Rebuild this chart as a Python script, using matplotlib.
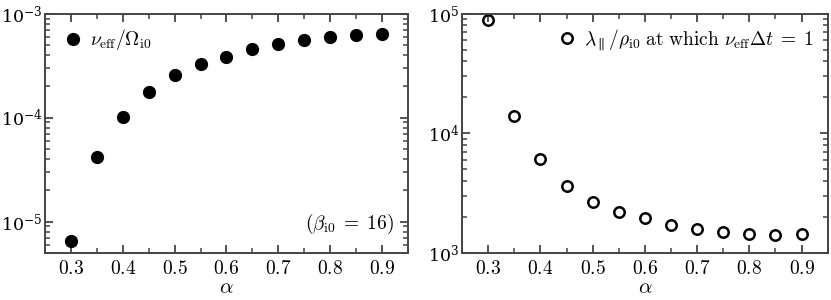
import matplotlib
matplotlib.use('Agg')
import matplotlib.pyplot as plt
from matplotlib.ticker import MultipleLocator, LogLocator, NullFormatter

plt.rcParams['mathtext.fontset'] = 'cm'
plt.rcParams['font.family'] = 'serif'
plt.rcParams['font.serif'] = ['DejaVu Serif']
plt.rcParams['axes.formatter.use_mathtext'] = True

# data
alpha = [0.3, 0.35, 0.4, 0.45, 0.5, 0.55, 0.6, 0.65, 0.7, 0.75, 0.8, 0.85, 0.9]
nu_eff = [6.45e-6, 4.2e-5, 1.02e-4, 1.78e-4, 2.56e-4, 3.28e-4, 3.88e-4,
          4.55e-4, 5.12e-4, 5.62e-4, 6.0e-4, 6.3e-4, 6.4e-4]
lam_par = [8.8e4, 1.4e4, 6.05e3, 3.66e3, 2.67e3, 2.21e3, 1.94e3,
           1.72e3, 1.59e3, 1.51e3, 1.45e3, 1.42e3, 1.43e3]
xtick_vals = [0.3, 0.4, 0.5, 0.6, 0.7, 0.8, 0.9]

spine_col = '#444444'

fig = plt.figure(figsize=(8.31, 3.0), dpi=100)
ax1 = fig.add_axes([0.054, 0.157, 0.437, 0.797])
ax2 = fig.add_axes([0.556, 0.157, 0.440, 0.797])


def style_axis(ax):
    ax.set_yscale('log')
    ax.set_xlim(0.25, 0.95)
    ax.set_xticks(xtick_vals)
    ax.set_xticklabels([r'$%.1f$' % v for v in xtick_vals])
    ax.xaxis.set_minor_locator(MultipleLocator(0.05))
    ax.yaxis.set_minor_locator(LogLocator(base=10, subs=range(2, 10)))
    ax.yaxis.set_minor_formatter(NullFormatter())
    ax.tick_params(which='both', direction='in', top=True, right=True,
                   color=spine_col)
    ax.tick_params(axis='x', labelsize=14, pad=5)
    ax.tick_params(axis='y', labelsize=12.5, pad=2)
    ax.tick_params(which='major', length=6, width=1.3)
    ax.tick_params(which='minor', length=3.5, width=1.1)
    for s in ax.spines.values():
        s.set_color(spine_col)
        s.set_linewidth(1.4)
    ax.set_xlabel(r'$\alpha$', fontsize=15, labelpad=0)


# left panel
ax1.plot(alpha, nu_eff, 'o', color='black', markersize=8.5,
         label=r'$\nu_{\rm eff}/\Omega_{\rm i0}$')
style_axis(ax1)
ax1.set_ylim(5e-6, 1e-3)
ax1.legend(loc='upper left', frameon=False, fontsize=14, handletextpad=0.1,
           borderaxespad=0.3, handlelength=1.5)
ax1.text(0.96, 0.07, r'$(\beta_{\rm i0}\;=\;16)$', transform=ax1.transAxes,
         ha='right', va='bottom', fontsize=14)

# right panel
ax2.plot(alpha, lam_par, 'o', markerfacecolor='none', markeredgecolor='black',
         markeredgewidth=1.8, markersize=7.5,
         label=r'$\lambda_\parallel/\rho_{\rm i0}\ \mathrm{at\ which}\ \nu_{\rm eff}\Delta t\;=\;1$')
style_axis(ax2)
ax2.set_ylim(1e3, 1e5)
ax2.legend(loc='upper right', frameon=False, fontsize=14, handletextpad=0.1,
           borderaxespad=0.3, handlelength=1.5)

fig.savefig('out.png', dpi=100)
